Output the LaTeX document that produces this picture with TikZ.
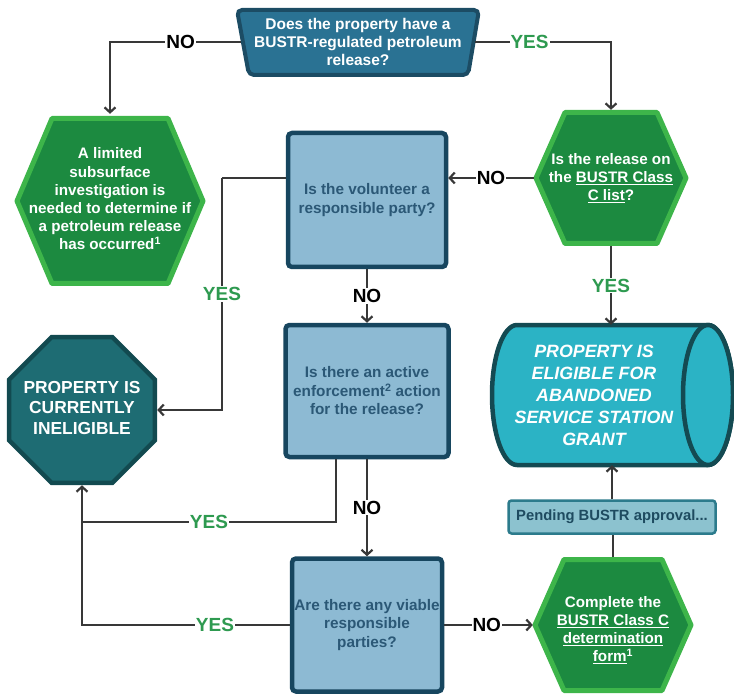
\documentclass[tikz,border=0pt]{standalone}
\usepackage{fontspec}
\setmainfont{Liberation Sans}
\usetikzlibrary{shapes.geometric,arrows.meta,calc}
\definecolor{trapfill}{HTML}{2A7293}
\definecolor{trapdraw}{HTML}{1C4C64}
\definecolor{greenfill}{HTML}{1C8A40}
\definecolor{greendraw}{HTML}{3DB54A}
\definecolor{boxfill}{HTML}{8DBAD3}
\definecolor{boxdraw}{HTML}{17465F}
\definecolor{boxtext}{HTML}{2B5876}
\definecolor{octfill}{HTML}{1E6C73}
\definecolor{octdraw}{HTML}{124A50}
\definecolor{cylfill}{HTML}{2BB3C5}
\definecolor{cyldraw}{HTML}{144A52}
\definecolor{pendfill}{HTML}{8CC2CF}
\definecolor{penddraw}{HTML}{2C7B8C}
\definecolor{pendtext}{HTML}{1E4B60}
\definecolor{linecol}{HTML}{383838}
\definecolor{yescol}{HTML}{2E9A50}
\newcommand\hexpath[5]{\draw[hexshape] (#1-#3,#2) -- (#1-#4,#2-#5) -- (#1+#4,#2-#5) -- (#1+#3,#2) -- (#1+#4,#2+#5) -- (#1-#4,#2+#5) -- cycle;}
\begin{document}
\begin{tikzpicture}[x=1pt,y=-1pt,
  conn/.style={line width=2.6pt, draw=linecol, -{Straight Barb[length=5pt,width=11pt,line width=2.2pt]}},
  plainconn/.style={line width=2.6pt, draw=linecol},
  lbl/.style={fill=white, inner sep=1pt, font=\bfseries\fontsize{19}{19}\selectfont},
  nolbl/.style={lbl, text=black},
  yeslbl/.style={lbl, text=yescol},
  boxstyle/.style={draw=boxdraw, fill=boxfill, line width=4.5pt, rounded corners=4pt, text=boxtext, font=\bfseries\fontsize{15.3}{19}\selectfont, align=center, inner sep=0pt},
  hexshape/.style={draw=greendraw, fill=greenfill, line width=5pt, line join=round},
  hextext/.style={text=white, font=\bfseries\fontsize{15.2}{18.2}\selectfont, align=center, inner sep=0pt},
  trapshape/.style={draw=trapdraw, fill=trapfill, line width=4pt, rounded corners=5pt},
  traptext/.style={text=white, font=\bfseries\fontsize{15.5}{17.8}\selectfont, align=center, inner sep=0pt, minimum width=234pt, minimum height=69pt},
  octstyle/.style={regular polygon, regular polygon sides=8, minimum size=158pt, draw=octdraw, fill=octfill, line width=4.5pt, inner sep=0pt},
  octtext/.style={text=white, font=\bfseries\fontsize{17.4}{20.5}\selectfont, align=center, inner sep=0pt},
  cylshape/.style={draw=cyldraw, fill=cylfill, line width=4.5pt},
  cyltext/.style={text=white, font=\bfseries\itshape\fontsize{17.8}{22}\selectfont, align=center, inner sep=0pt, minimum height=140pt},
  pendstyle/.style={draw=penddraw, fill=pendfill, line width=2.5pt, rounded corners=3pt, text=pendtext, font=\bfseries\fontsize{14.8}{16}\selectfont, minimum width=207pt, minimum height=33pt, inner sep=0pt}
]
\useasboundingbox (0,0) rectangle (734,695);

% top trapezoid
\draw[trapshape] (237,10) -- (479,10) -- (468,75) -- (249,75) -- cycle;
\node[traptext] (q1) at (358,42) {Does the property have a\\BUSTR-regulated petroleum\\release?};

% hexagons
\hexpath{110}{201}{93}{58}{82.5}
\node[hextext, minimum width=190pt, minimum height=170pt] (hexL) at (110,199)
  {A limited\\subsurface\\investigation is\\needed to determine if\\a petroleum release\\has occurred\textsuperscript{1}};
\hexpath{611}{178}{75}{46}{65.5}
\node[hextext, minimum width=154pt, minimum height=136pt] (hexR) at (611,178)
  {Is the release on\\the \underline{BUSTR Class}\\\underline{C list}?};
\hexpath{613}{625}{78}{49}{65.5}
\node[hextext, minimum width=160pt, minimum height=146pt] (hexB) at (613,630)
  {Complete the\\\underline{BUSTR Class C}\\\underline{determination}\\\underline{form}\textsuperscript{1}};

% question boxes
\node[boxstyle, minimum width=158pt, minimum height=134pt] (box1) at (367,200) {Is the volunteer a\\responsible party?};
\node[boxstyle, minimum width=163pt, minimum height=132pt, font=\bfseries\fontsize{15.3}{18.5}\selectfont] (box2) at (367,391) {Is there an active\\enforcement\textsuperscript{2} action\\for the release?};
\node[boxstyle, minimum width=150pt, minimum height=133pt, font=\bfseries\fontsize{15.3}{18.5}\selectfont] (box3) at (367,625) {Are there any viable\\responsible\\parties?};

% octagon
\node[octstyle] (oct) at (82,410) {};
\node[octtext] (octlabel) at (82,408) {PROPERTY IS\\CURRENTLY\\INELIGIBLE};

% cylinder
\draw[cylshape] (517,325) -- (708,325) arc[start angle=90,end angle=-90,x radius=25pt,y radius=70pt]
  -- (517,465) arc[start angle=270,end angle=90,x radius=25pt,y radius=70pt] -- cycle;
\draw[cylshape] (708,395) ellipse[x radius=25pt, y radius=70pt];
\node[cyltext] (cyl) at (594,395) {PROPERTY IS\\ELIGIBLE FOR\\ABANDONED\\SERVICE STATION\\GRANT};

% pending box
\node[pendstyle] (pend) at (612,517) {Pending BUSTR approval...};

% junction coordinates
\coordinate (j1) at (222,178);
\coordinate (j2) at (336,459);
\coordinate (j3) at (82,522);

% connectors
\draw[conn] (q1.west) -| node[nolbl, pos=0.23] {NO} (hexL.north);
\draw[conn] (q1.east) -| node[yeslbl, pos=0.2] {YES} (hexR.north);
\draw[conn] (hexR.west) -- node[nolbl, pos=0.5] {NO} (hexR.west -| box1.east);
\draw[plainconn] (box1.west |- hexR.west) -- (j1);
\draw[conn] (j1) |- node[yeslbl, pos=0.25] {YES} (oct.east);
\draw[conn] (box1.south) -- node[nolbl] {NO} (box2.north);
\draw[plainconn] (j2) |- node[yeslbl, pos=0.75] {YES} (j3);
\draw[conn] (box2.south) -- node[nolbl] {NO} (box3.north);
\draw[conn] (box3.west) -| node[yeslbl, pos=0.18] {YES} (oct.south);
\draw[conn] (box3.east) -- node[nolbl, pos=0.48] {NO} (box3.east -| hexB.west);
\draw[conn] (hexR.south) -- node[yeslbl] {YES} (hexR.south |- cyl.north);
\draw[plainconn] (hexB.north) -- (hexB.north |- pend.south);
\draw[conn] (pend.north) -- (pend.north |- cyl.south);
\end{tikzpicture}
\end{document}
